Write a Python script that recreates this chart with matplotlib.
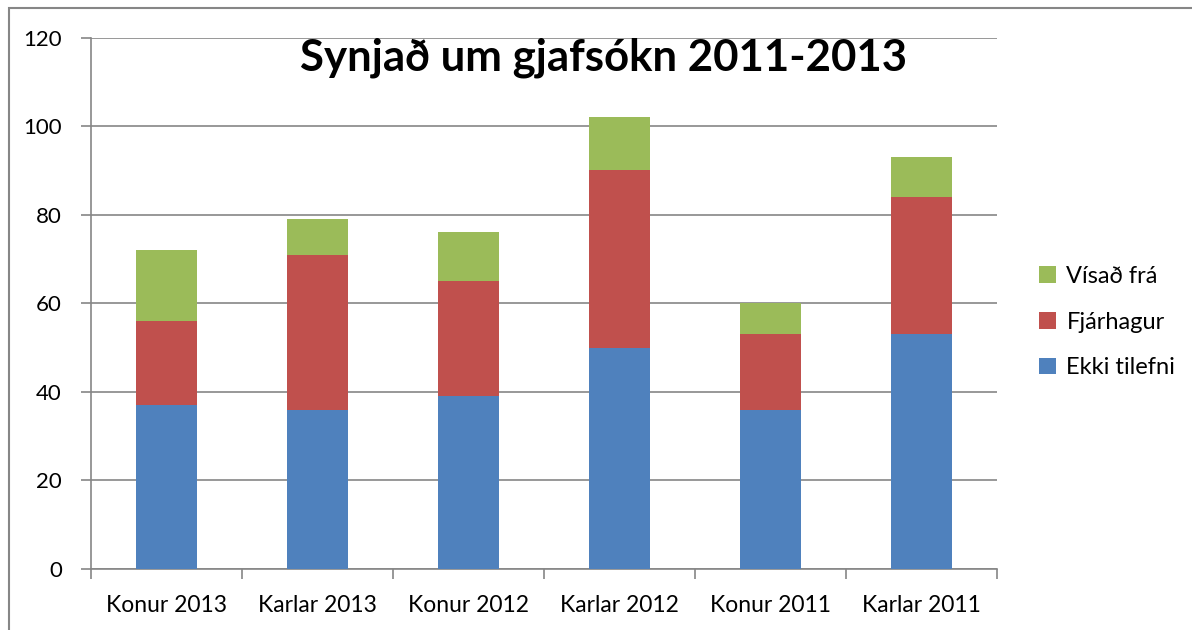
import matplotlib
matplotlib.use("Agg")
import matplotlib.pyplot as plt
from matplotlib.patches import Rectangle
import numpy as np

plt.rcParams['font.family'] = ['Lato', 'DejaVu Sans']

categories = ["Konur 2013", "Karlar 2013", "Konur 2012", "Karlar 2012", "Konur 2011", "Karlar 2011"]
ekki_tilefni = [37, 36, 39, 50, 36, 53]
fjarhagur = [19, 35, 26, 40, 17, 31]
visad_fra = [16, 8, 11, 12, 7, 9]
series_names = ["Ekki tilefni", "Fjárhagur", "Vísað frá"]
colors = ["#4F81BD", "#C0504D", "#9BBB59"]
title = "Synjað um gjafsókn 2011-2013"
yticks = [0, 20, 40, 60, 80, 100, 120]

fig = plt.figure(figsize=(11.92, 6.30), dpi=100)
fig.add_artist(Rectangle((9/1192, -0.05), 1.2, 1.05 - 8/630, transform=fig.transFigure,
                         fill=False, edgecolor="#868686", linewidth=1.5))

ax = fig.add_axes([91/1192, 1 - 569/630, (997-91)/1192, (569-37.5)/630])
x = np.arange(len(categories))
bottom = np.zeros(len(categories))
handles = []
for vals, name, c in zip([ekki_tilefni, fjarhagur, visad_fra], series_names, colors):
    b = ax.bar(x, vals, width=0.4, bottom=bottom, color=c, label=name, zorder=3)
    bottom += np.array(vals)
    handles.append(b)

ax.set_xlim(-0.5, len(categories) - 0.5)
ax.set_ylim(0, 120)
ax.set_yticks(yticks)
ax.yaxis.grid(True, color="#868686", linewidth=1.2, zorder=0)
ax.set_xticks(x)
ax.set_xticklabels(categories, fontsize=16.5)
ax.tick_params(axis='x', length=0, pad=19)
ax.set_xticks(np.arange(-0.5, len(categories)), minor=True)
ax.tick_params(axis='x', which='minor', length=7, color="#868686", width=1.2)
ax.tick_params(axis='y', labelsize=16, length=7, color="#868686", width=1.2, pad=14)
for s in ["top", "right"]:
    ax.spines[s].set_visible(False)
for s in ["left", "bottom"]:
    ax.spines[s].set_color("#868686")
    ax.spines[s].set_linewidth(1.2)

fig.text(603/1192, 1 - 58/630, title, fontsize=31.5, fontweight='bold', ha='center', va='center')

leg = fig.legend(handles[::-1], series_names[::-1], loc='center left',
                 bbox_to_anchor=(1018/1192, 1 - 322/630), frameon=False, fontsize=17,
                 handlelength=0.7, handleheight=0.7, handletextpad=0.45, labelspacing=1.05)

fig.savefig("out.png", dpi=100)
